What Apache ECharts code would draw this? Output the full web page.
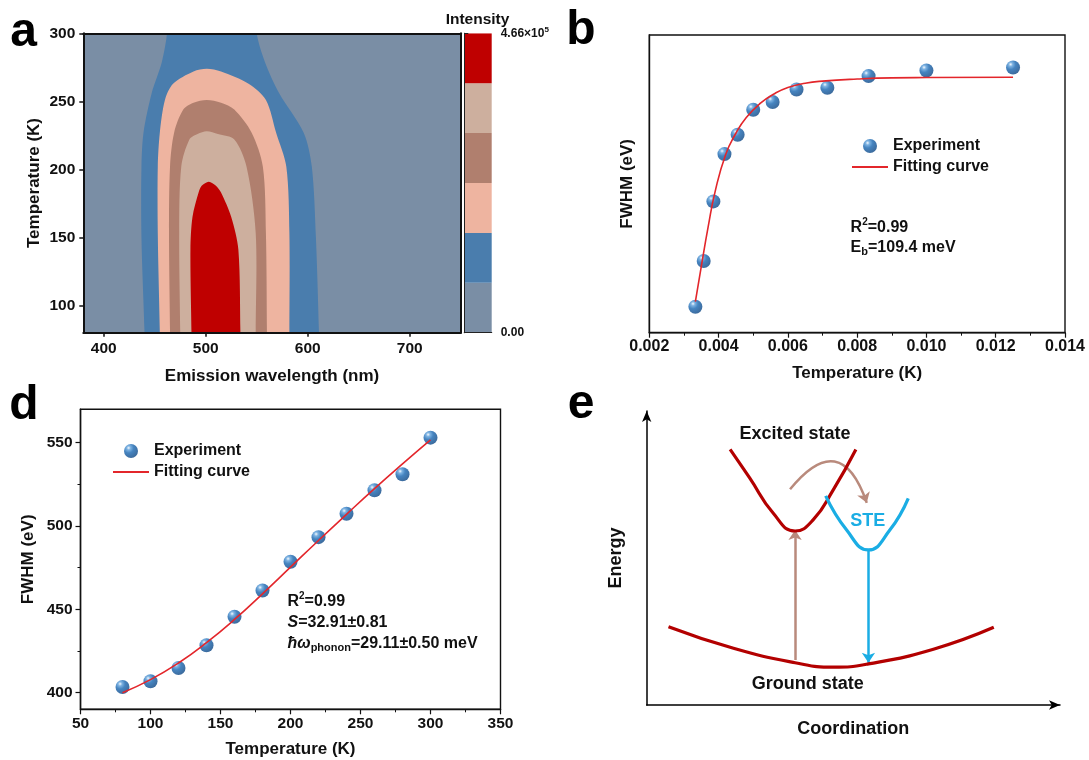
<!DOCTYPE html>
<html>
<head>
<meta charset="utf-8">
<script src="https://cdn.jsdelivr.net/npm/echarts@6/dist/echarts.min.js"></script>
<style>
  html, body { margin: 0; padding: 0; background: #fff; }
  #chart { width: 1089px; height: 760px; }
</style>
</head>
<body>
<div id="chart"></div>
<script>
const FONT = '"Liberation Sans", Arial, sans-serif';

// ---------- panel a: contour bands (boundary wavelength in nm at each temperature in K)
const bgColor = '#7A8EA5';
const contourColors = ['#4A7DAD', '#EEB4A0', '#B07F6E', '#CDAF9E', '#BF0000'];

const blueT = [70, 80, 150, 202, 227, 256, 279, 300, 320];
const blueL = [440, 440, 437, 437, 439, 447, 457, 462, 462];
const blueR = [611, 611, 608, 604, 596, 572, 558, 550, 550];

const pinkT = [70, 80, 153, 202, 227, 251, 263, 272, 274];
const pinkL = [455, 455, 453, 453, 455, 460, 468, 488, 501];
const pinkR = [582, 582, 582, 579, 569, 559, 542, 515, 501];

const brownT = [70, 80, 153, 202, 227, 244, 249, 251];
const brownL = [465, 465, 464, 465, 469, 478, 488, 501];
const brownR = [560, 560, 559, 556, 545, 528, 515, 501];

const tanT = [70, 80, 153, 202, 222, 226, 228];
const tanL = [475, 475, 474, 476, 484, 492, 501];
const tanR = [549, 549, 549, 540, 528, 512, 501];

const redT = [70, 80, 141, 165, 183, 188, 191];
const redL = [486, 486, 485, 487, 493, 496, 503];
const redR = [534, 534, 532, 525, 515, 510, 503];

const aXTicks = [400, 500, 600, 700];
const aYTicks = [100, 150, 200, 250, 300];

// colour bar levels
const cbLevels = [0, 77667, 155333, 233000, 310667, 388333, 466000];

// ---------- panel b
const bX = [0.00333, 0.00357, 0.00385, 0.00417, 0.00455, 0.005, 0.00556, 0.00625, 0.00714, 0.00833, 0.01, 0.0125];
const bY = [8.7, 24.1, 44.1, 60.0, 66.5, 74.9, 77.5, 81.7, 82.3, 86.2, 88.1, 89.1];
const bFitX = [0.00333, 0.0035, 0.0037, 0.0039, 0.0042, 0.0045, 0.0048, 0.0052, 0.0056, 0.006, 0.0065, 0.007, 0.008, 0.009, 0.010, 0.0125];
const bFitY = [10.4, 22.2, 35.6, 47.4, 59.7, 67.0, 72.3, 77.0, 80.2, 82.4, 83.8, 84.5, 85.2, 85.6, 85.7, 85.8];

// ---------- panel d
const dX = [80, 100, 120, 140, 160, 180, 200, 220, 240, 260, 280, 300];
const dY = [403.4, 406.8, 414.8, 428.4, 445.5, 461.3, 478.5, 493.3, 507.3, 521.4, 531.0, 553.0];
const dFitY = [400, 407.8, 417.8, 430, 443.9, 459.3, 475.3, 491.3, 507, 522.4, 537.2, 551.6];
const dYTicks = [400, 450, 500, 550];
const dYMinor = [425, 475, 525];

// ---------- panel e (schematic, arbitrary units)
const groundCurve = [[5.2, 26.1], [20.7, 18.9], [35.4, 14.1], [44.5, 12.6], [52.9, 13.7], [68.4, 18.6], [82.8, 25.9]];
const excitedCurve = [[19.9, 85.2], [24.6, 75.6], [30.2, 63.9], [35.4, 58.0], [39.7, 61.7], [44.5, 71.7], [49.9, 85.2]];
const steCurve = [[42.7, 69.7], [47.7, 58.3], [52.9, 51.7], [58.0, 58.3], [62.4, 68.9]];
const absorbArrow = [[35.4, 15.0], [35.4, 58.3]];
const emitArrow = [[52.9, 51.4], [52.9, 14.1]];
const relaxArrow = [[34.2, 71.9], [52.5, 67.4]];

const bands = [
  { T: blueT, L: blueL, R: blueR },
  { T: pinkT, L: pinkL, R: pinkR },
  { T: brownT, L: brownL, R: brownR },
  { T: tanT, L: tanL, R: tanR },
  { T: redT, L: redL, R: redR }
];

const chart = echarts.init(document.getElementById('chart'));

const sphere = new echarts.graphic.RadialGradient(0.33, 0.28, 0.8, [
  { offset: 0, color: '#F2F8FF' },
  { offset: 0.18, color: '#5C9FDA' },
  { offset: 0.45, color: '#1765B0' },
  { offset: 1, color: '#0A427F' }
]);

const labelFont = { fontFamily: FONT, fontWeight: 'bold', fontSize: 15.5, color: '#111' };
const nameFont = { fontFamily: FONT, fontWeight: 'bold', fontSize: 17, color: '#111' };
const frameLine = { show: true, lineStyle: { color: '#111', width: 2 } };
const off = { show: false };

function renderBand(params, api) {
  const b = bands[params.dataIndex];
  const n = b.T.length;
  const pts = [];
  for (let i = 0; i < n; i++) pts.push(api.coord([b.L[i], b.T[i]]));
  for (let i = n - 1; i >= 0; i--) {
    if (i === n - 1 && b.L[i] === b.R[i]) continue;
    pts.push(api.coord([b.R[i], b.T[i]]));
  }
  return {
    type: 'polygon',
    shape: { points: pts, smooth: 0.3 },
    style: { fill: contourColors[params.dataIndex] }
  };
}

function renderLevel(params, api) {
  const i = params.dataIndex;
  const p1 = api.coord([0, cbLevels[i + 1]]);
  const p2 = api.coord([1, cbLevels[i]]);
  return {
    type: 'rect',
    shape: { x: p1[0], y: p1[1], width: p2[0] - p1[0], height: p2[1] - p1[1] },
    style: { fill: [bgColor].concat(contourColors)[i] }
  };
}

function ann(x, y, text, extra) {
  return {
    type: 'text', x: x, y: y, z: 100,
    style: Object.assign({
      text: text, fill: '#111', fontFamily: FONT, fontWeight: 'bold', fontSize: 16,
      align: 'left', verticalAlign: 'middle',
      rich: {
        n: { fontFamily: FONT, fontWeight: 'bold', fontSize: 16, color: '#111' },
        i: { fontFamily: FONT, fontWeight: 'bold', fontStyle: 'italic', fontSize: 16, color: '#111' },
        sup: { fontFamily: FONT, fontWeight: 'bold', fontSize: 10, color: '#111', padding: [0, 0, 10, 0] },
        sub: { fontFamily: FONT, fontWeight: 'bold', fontSize: 11, color: '#111', padding: [9, 0, 0, 0] }
      }
    }, extra || {})
  };
}

const legendText = { fontFamily: FONT, fontWeight: 'bold', fontSize: 16, color: '#111', lineHeight: 16 };
const legendData = [
  { name: 'Experiment' },
  { name: 'Fitting curve', itemStyle: { opacity: 0 } }
];

const option = {
  backgroundColor: '#fff',
  animation: false,
  grid: [
    { left: 83.3, top: 33.3, width: 377.5, height: 299.4, show: true, backgroundColor: bgColor, borderWidth: 0 },
    { left: 464.3, top: 33.3, width: 27.4, height: 299.4 },
    { left: 649.3, top: 35, width: 415.7, height: 297.7, show: true, borderColor: '#111', borderWidth: 1.4 },
    { left: 80.5, top: 409.3, width: 420, height: 300, show: true, borderColor: '#111', borderWidth: 1.4 },
    { left: 646.7, top: 411, width: 413.3, height: 294 }
  ],
  xAxis: [
    { gridIndex: 0, type: 'value', min: 380, max: 750, position: 'bottom', z: 10,
      axisLine: frameLine, splitLine: off,
      axisTick: { customValues: aXTicks, length: 4, lineStyle: { width: 1.5, color: '#111' } },
      axisLabel: Object.assign({ customValues: aXTicks, margin: 8 }, labelFont),
      name: 'Emission wavelength (nm)', nameLocation: 'middle', nameGap: 35, nameTextStyle: nameFont },
    { gridIndex: 0, type: 'value', min: 380, max: 750, position: 'top', z: 10,
      axisLine: frameLine, axisTick: off, axisLabel: off, splitLine: off },
    { gridIndex: 1, type: 'value', min: 0, max: 1, position: 'bottom', z: 10,
      axisLine: { show: true, lineStyle: { color: '#222', width: 1 } }, axisTick: off, axisLabel: off, splitLine: off },
    { gridIndex: 1, type: 'value', min: 0, max: 1, position: 'top', z: 10,
      axisLine: { show: true, lineStyle: { color: '#222', width: 1 } }, axisTick: off, axisLabel: off, splitLine: off },
    { gridIndex: 2, type: 'value', min: 0.002, max: 0.014, interval: 0.002, position: 'bottom',
      axisLine: { show: true, lineStyle: { color: '#111', width: 1.4 } }, splitLine: off,
      axisTick: { length: 5, lineStyle: { color: '#111', width: 1.2 } },
      minorTick: { show: true, splitNumber: 2, length: 3, lineStyle: { color: '#111', width: 1 } },
      axisLabel: Object.assign({ margin: 6, formatter: v => v.toFixed(3) }, labelFont, { fontSize: 16 }),
      name: 'Temperature (K)', nameLocation: 'middle', nameGap: 32, nameTextStyle: nameFont },
    { gridIndex: 3, type: 'value', min: 50, max: 350, interval: 50, position: 'bottom',
      axisLine: { show: true, lineStyle: { color: '#111', width: 1.4 } }, splitLine: off,
      axisTick: { length: 5, lineStyle: { color: '#111', width: 1.2 } },
      minorTick: { show: true, splitNumber: 2, length: 3, lineStyle: { color: '#111', width: 1 } },
      axisLabel: Object.assign({ margin: 6 }, labelFont),
      name: 'Temperature (K)', nameLocation: 'middle', nameGap: 31.5, nameTextStyle: nameFont },
    { gridIndex: 4, type: 'value', min: 0, max: 98.6,
      axisLine: { show: true, symbol: ['none', 'arrow'], symbolSize: [7, 11], lineStyle: { color: '#000', width: 1.5 } },
      axisTick: off, axisLabel: off, splitLine: off,
      name: 'Coordination', nameLocation: 'middle', nameGap: 15,
      nameTextStyle: Object.assign({}, nameFont, { fontSize: 18 }) }
  ],
  yAxis: [
    { gridIndex: 0, type: 'value', min: 80, max: 300, position: 'left', z: 10,
      axisLine: frameLine, splitLine: off,
      axisTick: { customValues: aYTicks, length: 4, lineStyle: { width: 1.5, color: '#111' } },
      axisLabel: Object.assign({ customValues: aYTicks, margin: 8 }, labelFont),
      name: 'Temperature (K)', nameLocation: 'middle', nameGap: 40, nameTextStyle: nameFont },
    { gridIndex: 0, type: 'value', min: 80, max: 300, position: 'right', z: 10,
      axisLine: frameLine, axisTick: off, axisLabel: off, splitLine: off },
    { gridIndex: 1, type: 'value', min: 0, max: 466000, position: 'left', z: 10,
      axisLine: { show: true, lineStyle: { color: '#222', width: 1 } }, axisTick: off, axisLabel: off, splitLine: off },
    { gridIndex: 1, type: 'value', min: 0, max: 466000, position: 'right', z: 10,
      axisLine: { show: true, lineStyle: { color: '#222', width: 1 } }, splitLine: off,
      axisTick: { customValues: [0, 466000], length: 4, lineStyle: { color: '#222', width: 1 } },
      axisLabel: {
        customValues: [0, 466000], margin: 9, fontFamily: FONT, fontWeight: 'bold', fontSize: 12, color: '#111',
        formatter: v => v === 0 ? '0.00' : '4.66×10{s|5}',
        rich: { s: { fontFamily: FONT, fontWeight: 'bold', fontSize: 8, color: '#111', padding: [0, 0, 8, 0] } }
      } },
    { gridIndex: 2, type: 'value', min: 0, max: 100,
      axisLine: { show: true, lineStyle: { color: '#111', width: 1.4 } }, axisTick: off, axisLabel: off, splitLine: off,
      name: 'FWHM (eV)', nameLocation: 'middle', nameGap: 13, nameTextStyle: nameFont },
    { gridIndex: 3, type: 'value', min: 390, max: 570, position: 'left',
      axisLine: { show: true, lineStyle: { color: '#111', width: 1.4 } }, splitLine: off,
      axisTick: { customValues: dYTicks, length: 5, lineStyle: { color: '#111', width: 1.2 } },
      axisLabel: Object.assign({ customValues: dYTicks, margin: 8 }, labelFont),
      name: 'FWHM (eV)', nameLocation: 'middle', nameGap: 44, nameTextStyle: nameFont },
    { gridIndex: 3, type: 'value', min: 390, max: 570, position: 'left', offset: 0,
      axisLine: off, splitLine: off, axisLabel: off,
      axisTick: { customValues: dYMinor, length: 3, lineStyle: { color: '#111', width: 1 } } },
    { gridIndex: 4, type: 'value', min: 0, max: 98,
      axisLine: { show: true, symbol: ['none', 'arrow'], symbolSize: [7, 11], lineStyle: { color: '#000', width: 1.5 } },
      axisTick: off, axisLabel: off, splitLine: off,
      name: 'Energy', nameLocation: 'middle', nameGap: 22,
      nameTextStyle: Object.assign({}, nameFont, { fontSize: 18 }) }
  ],
  legend: [
    { left: 846, top: 133, orient: 'vertical', itemWidth: 36, itemHeight: 14, itemGap: 5, selectedMode: false,
      data: legendData, textStyle: legendText },
    { left: 107, top: 438, orient: 'vertical', itemWidth: 36, itemHeight: 14, itemGap: 5, selectedMode: false,
      data: legendData, textStyle: legendText }
  ],
  series: [
    { type: 'custom', xAxisIndex: 0, yAxisIndex: 0, clip: true, renderItem: renderBand,
      data: bands.map((b, i) => [i]) },
    { type: 'custom', xAxisIndex: 2, yAxisIndex: 3, clip: true, renderItem: renderLevel,
      data: cbLevels.slice(0, -1).map((v, i) => [i]) },
    { name: 'Experiment', type: 'scatter', xAxisIndex: 4, yAxisIndex: 4, symbolSize: 14, z: 2,
      itemStyle: { color: sphere }, data: bX.map((x, i) => [x, bY[i]]) },
    { name: 'Fitting curve', type: 'line', xAxisIndex: 4, yAxisIndex: 4, smooth: true, symbol: 'none', z: 3,
      lineStyle: { color: '#E3262B', width: 1.6 }, itemStyle: { color: '#E3262B' },
      data: bFitX.map((x, i) => [x, bFitY[i]]) },
    { name: 'Experiment', type: 'scatter', xAxisIndex: 5, yAxisIndex: 5, symbolSize: 14, z: 2,
      itemStyle: { color: sphere }, data: dX.map((x, i) => [x, dY[i]]) },
    { name: 'Fitting curve', type: 'line', xAxisIndex: 5, yAxisIndex: 5, smooth: true, symbol: 'none', z: 3,
      lineStyle: { color: '#E3262B', width: 1.6 }, itemStyle: { color: '#E3262B' },
      data: dX.map((x, i) => [x, dFitY[i]]) },
    { type: 'line', xAxisIndex: 6, yAxisIndex: 7, smooth: true, symbol: 'none',
      lineStyle: { color: '#B30000', width: 3.2 }, data: groundCurve },
    { type: 'line', xAxisIndex: 6, yAxisIndex: 7, smooth: true, symbol: 'none',
      lineStyle: { color: '#B30000', width: 3.2 }, data: excitedCurve },
    { type: 'line', xAxisIndex: 6, yAxisIndex: 7, smooth: true, symbol: 'none',
      lineStyle: { color: '#1AADE4', width: 3.2 }, data: steCurve },
    { type: 'lines', coordinateSystem: 'cartesian2d', xAxisIndex: 6, yAxisIndex: 7,
      symbol: ['none', 'arrow'], symbolSize: 10,
      lineStyle: { color: '#B98A7C', width: 2.5, opacity: 1 },
      data: [{ coords: absorbArrow }] },
    { type: 'lines', coordinateSystem: 'cartesian2d', xAxisIndex: 6, yAxisIndex: 7,
      symbol: ['none', 'arrow'], symbolSize: 10,
      lineStyle: { color: '#1AADE4', width: 2.5, opacity: 1 },
      data: [{ coords: emitArrow }] },
    { type: 'lines', coordinateSystem: 'cartesian2d', xAxisIndex: 6, yAxisIndex: 7,
      symbol: ['none', 'arrow'], symbolSize: 10,
      lineStyle: { color: '#B98A7C', width: 2.5, opacity: 1, curveness: 0.9 },
      data: [{ coords: relaxArrow }] }
  ],
  graphic: [
    { type: 'text', x: 23.5, y: 32.5, style: { text: 'a', fontFamily: FONT, fontWeight: 'bold', fontSize: 48, fill: '#000', align: 'center', verticalAlign: 'middle' } },
    { type: 'text', x: 581, y: 30.5, style: { text: 'b', fontFamily: FONT, fontWeight: 'bold', fontSize: 48, fill: '#000', align: 'center', verticalAlign: 'middle' } },
    { type: 'text', x: 24, y: 405.5, style: { text: 'd', fontFamily: FONT, fontWeight: 'bold', fontSize: 48, fill: '#000', align: 'center', verticalAlign: 'middle' } },
    { type: 'text', x: 581, y: 404.5, style: { text: 'e', fontFamily: FONT, fontWeight: 'bold', fontSize: 48, fill: '#000', align: 'center', verticalAlign: 'middle' } },
    ann(477.5, 19.3, 'Intensity', { align: 'center', fontSize: 15.5 }),
    ann(850.6, 227.7, '{n|R}{sup|2}{n|=0.99}'),
    ann(850.6, 247.7, '{n|E}{sub|b}{n|=109.4 meV}'),
    ann(287.5, 601.7, '{n|R}{sup|2}{n|=0.99}'),
    ann(287.5, 622.3, '{i|S}{n|=32.91±0.81}'),
    ann(287.5, 643.3, '{i|ħω}{sub|phonon}{n|=29.11±0.50 meV}'),
    ann(795, 434.3, 'Excited state', { align: 'center', fontSize: 18 }),
    ann(807.7, 684, 'Ground state', { align: 'center', fontSize: 18 }),
    ann(867.7, 520.7, 'STE', { align: 'center', fontSize: 18, fill: '#1AADE4' })
  ]
};

chart.setOption(option);
</script>
</body>
</html>
